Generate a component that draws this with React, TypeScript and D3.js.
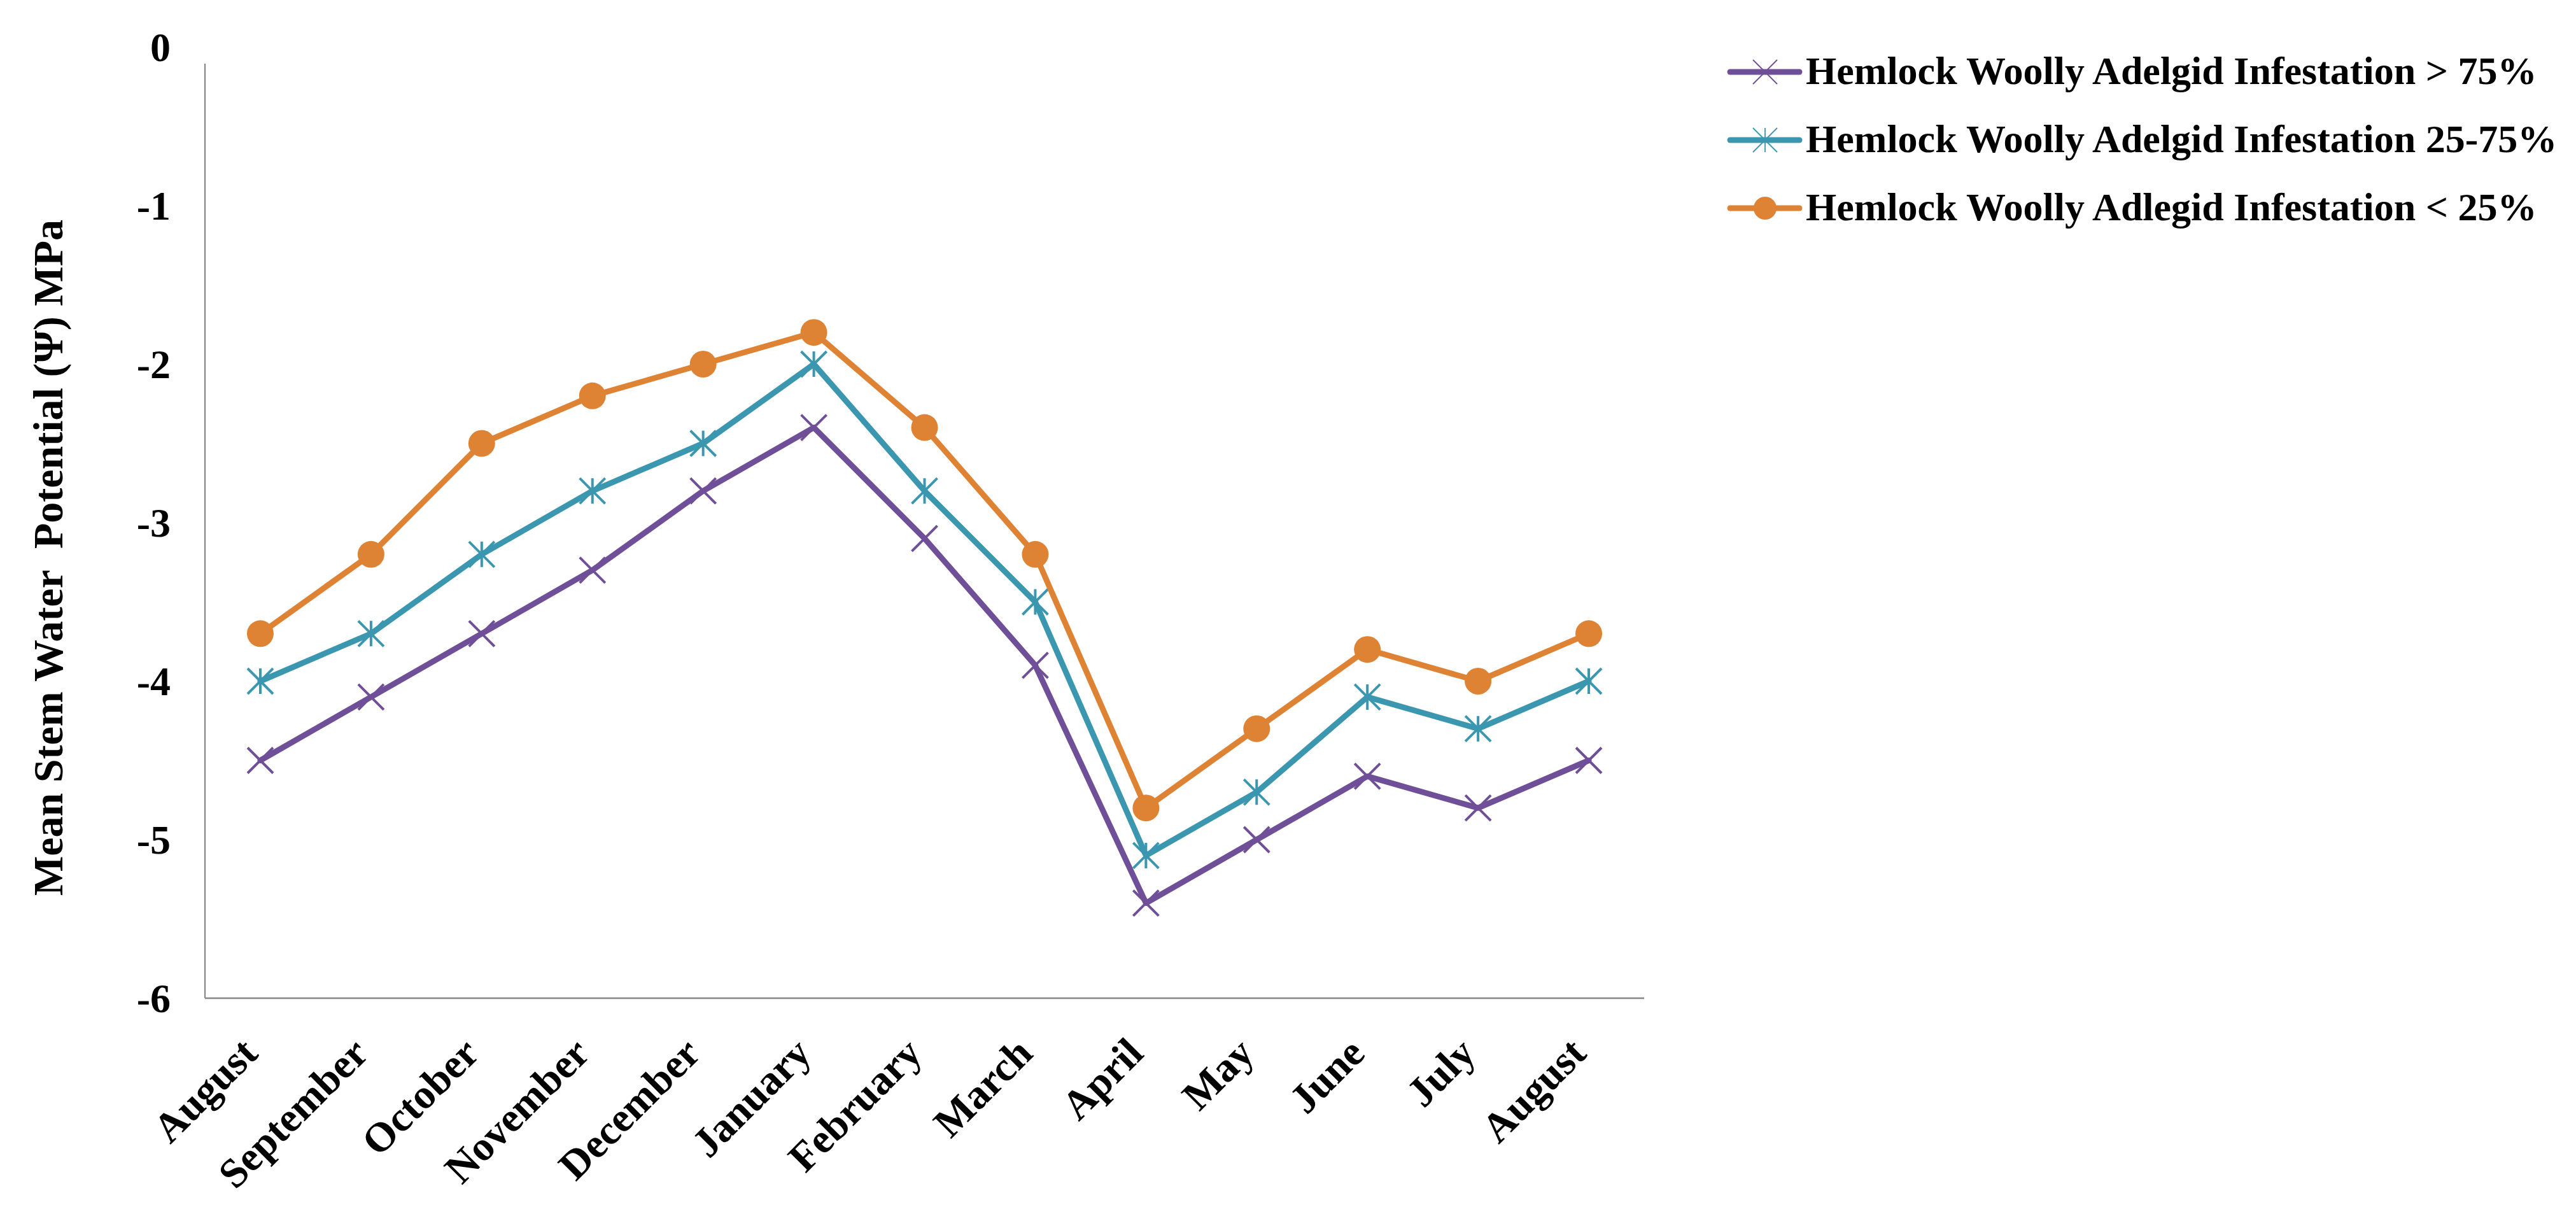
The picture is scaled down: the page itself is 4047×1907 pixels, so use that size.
import React from "react";
import * as d3 from "d3";

const months = [
  "August", "September", "October", "November", "December", "January",
  "February", "March", "April", "May", "June", "July", "August",
];
const over75 = [-4.5, -4.1, -3.7, -3.3, -2.8, -2.4, -3.1, -3.9, -5.4, -5.0, -4.6, -4.8, -4.5];
const mid25to75 = [-4.0, -3.7, -3.2, -2.8, -2.5, -2.0, -2.8, -3.5, -5.1, -4.7, -4.1, -4.3, -4.0];
const under25 = [-3.7, -3.2, -2.5, -2.2, -2.0, -1.8, -2.4, -3.2, -4.8, -4.3, -3.8, -4.0, -3.7];
const seriesNames = [
  "Hemlock Woolly Adelgid Infestation > 75%",
  "Hemlock Woolly Adelgid Infestation 25-75%",
  "Hemlock Woolly Adlegid Infestation < 25%",
];
const yTicks = [0, -1, -2, -3, -4, -5, -6];
const yTitle = "Mean Stem Water\u00A0\u00A0Potential (\u03A8) MPa";

const W = 4047;
const H = 1907;
const FONT = "'Liberation Serif', 'Times New Roman', serif";

const series = [
  { name: seriesNames[0], values: over75, color: "#6E4F98", marker: "x" },
  { name: seriesNames[1], values: mid25to75, color: "#3B97AF", marker: "star" },
  { name: seriesNames[2], values: under25, color: "#DE8234", marker: "circle" },
];

function Marker({ type, color, x, y, size, sw }: { type: string; color: string; x: number; y: number; size: number; sw: number }) {
  if (type === "circle") {
    return <circle cx={x} cy={y} r={size} fill={color} />;
  }
  const d = `M${x - size},${y - size}L${x + size},${y + size}M${x - size},${y + size}L${x + size},${y - size}` +
    (type === "star" ? `M${x},${y - size}L${x},${y + size}` : "");
  return <path d={d} stroke={color} strokeWidth={sw} fill="none" />;
}

export default function App() {
  const plotLeft = 322;
  const plotRight = 2583;
  const plotBottom = 1568;
  const x = d3.scaleBand<number>().domain(months.map((_, i) => i)).range([plotLeft, plotRight]).padding(0);
  const y = d3.scaleLinear().domain([-6, 0]).range([plotBottom, 74]);
  const cx = (i: number) => (x(i) as number) + x.bandwidth() / 2;
  const line = d3.line<number>().x((_, i) => cx(i)).y((v) => y(v));

  const legendX = 2718;
  const legendRows = [113, 220, 327];

  return (
    <svg width={W} height={H} style={{ position: "absolute", left: 0, top: 0, background: "#fff" }} fontFamily={FONT}>
      <rect x={0} y={0} width={W} height={H} fill="#fff" />
      {/* axes */}
      <line x1={plotLeft} x2={plotLeft} y1={100} y2={plotBottom} stroke="#868686" strokeWidth={2.2} />
      <line x1={plotLeft} x2={plotRight} y1={plotBottom} y2={plotBottom} stroke="#868686" strokeWidth={2.6} />
      {/* y tick labels */}
      {yTicks.map((t) => (
        <text key={t} x={268} y={y(t)} dy="0.35em" textAnchor="end" fontSize={64} fontWeight="bold" fill="#000">
          {String(t)}
        </text>
      ))}
      {/* y title */}
      <text transform={`translate(98,876) rotate(-90)`} textAnchor="middle" fontSize={66} fontWeight="bold" fill="#000">
        {yTitle}
      </text>
      {/* x labels */}
      {months.map((m, i) => (
        <text key={i} transform={`translate(${cx(i) - 1},${plotBottom + 90}) rotate(-45)`} textAnchor="end"
          fontSize={65} fontWeight="bold" fill="#000">
          {m}
        </text>
      ))}
      {/* series */}
      {series.map((s) => (
        <g key={s.name}>
          <path d={line(s.values) as string} fill="none" stroke={s.color} strokeWidth={9} strokeLinejoin="round" strokeLinecap="round" />
          {s.values.map((v, i) => (
            <Marker key={i} type={s.marker} color={s.color} x={cx(i)} y={y(v)} size={s.marker === "circle" ? 21 : 20} sw={4} />
          ))}
        </g>
      ))}
      {/* legend */}
      {series.map((s, k) => (
        <g key={"lg" + k}>
          <line x1={legendX} x2={legendX + 109} y1={legendRows[k]} y2={legendRows[k]} stroke={s.color} strokeWidth={9} strokeLinecap="round" />
          <Marker type={s.marker} color={s.color} x={legendX + 55} y={legendRows[k]} size={s.marker === "circle" ? 18 : 19} sw={1.8} />
          <text x={2837} y={legendRows[k] + 19} fontSize={62} fontWeight="bold" fill="#000">{s.name}</text>
        </g>
      ))}
    </svg>
  );
}
